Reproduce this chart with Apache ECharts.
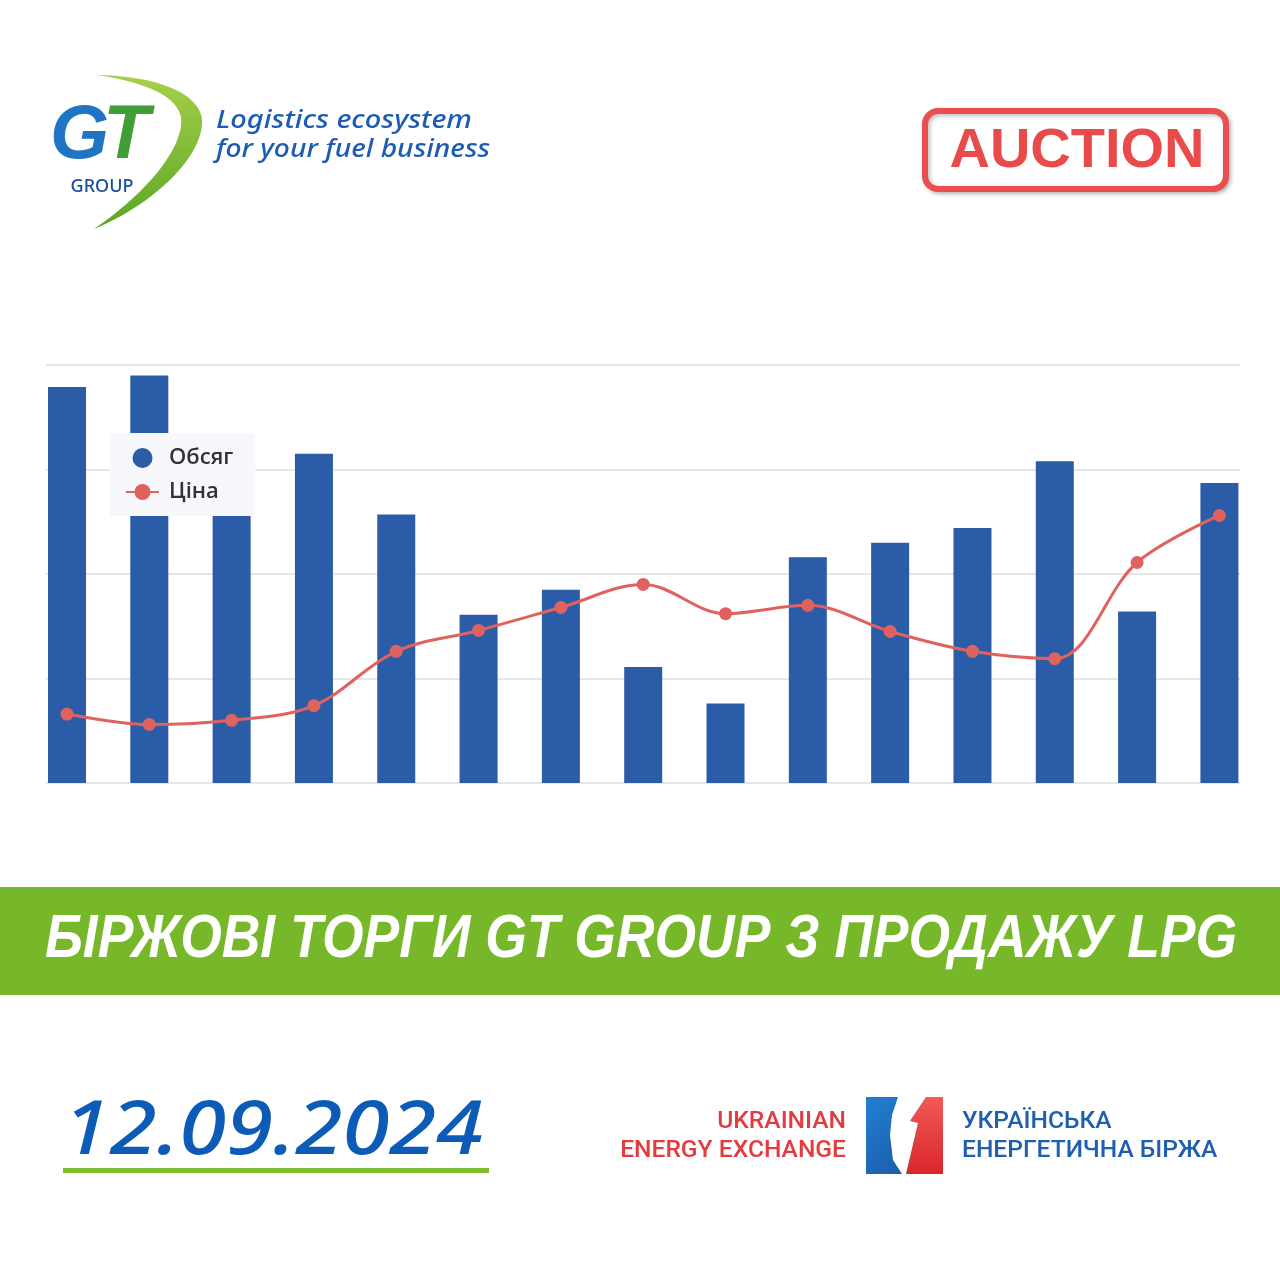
<!DOCTYPE html>
<html>
<head>
<meta charset="utf-8">
<script src="https://cdn.jsdelivr.net/npm/echarts@6.0.0/dist/echarts.min.js"></script>
<style>
html,body{margin:0;padding:0;background:#ffffff;}
#chart{width:1280px;height:1280px;}
</style>
</head>
<body>
<div id="chart"></div>
<script>
// ---- data ----
const sessions = ['1','2','3','4','5','6','7','8','9','10','11','12','13','14','15'];
const volume = [379, 390, 280, 315, 257, 161, 185, 111, 76, 216, 230, 244, 308, 164, 287];
const price  = [66, 56, 60, 74, 126, 146, 168, 190, 162, 170, 145, 126, 119, 211, 256];
const yTicks = [0, 100, 200, 300, 400];
const legendNames = ['Обсяг', 'Ціна'];

const headerTag = ['Logistics ecosystem', 'for your fuel business'];
const bannerText = 'БІРЖОВІ ТОРГИ GT GROUP З ПРОДАЖУ LPG';
const dateText = '12.09.2024';
const ueeLatin = ['UKRAINIAN', 'ENERGY EXCHANGE'];
const ueeCyr = ['УКРАЇНСЬКА', 'ЕНЕРГЕТИЧНА БІРЖА'];

// ---- helpers ----
const mctx = document.createElement('canvas').getContext('2d');
function fit(text, font, target) { mctx.font = font; return target / mctx.measureText(text).width; }
function bez(p0, p1, p2, p3, n) {
  const pts = [];
  for (let k = 0; k <= n; k++) {
    const t = k / n, u = 1 - t;
    pts.push([
      u*u*u*p0[0] + 3*u*u*t*p1[0] + 3*u*t*t*p2[0] + t*t*t*p3[0],
      u*u*u*p0[1] + 3*u*u*t*p1[1] + 3*u*t*t*p2[1] + t*t*t*p3[1]
    ]);
  }
  return pts;
}
const swoosh = [].concat(
  bez([97,75],[160,76],[205,95],[202,125],20),
  bez([202,125],[199,160],[152,205],[94,229],24),
  bez([94,229],[136,200],[176,160],[181,126],24),
  bez([181,126],[185,100],[152,83],[97,75],20)
);

const BAR = '#2b5ca8';
const LINE = '#e0625f';
const bannerFont = 'italic bold 62px "Liberation Sans"';
const bannerScale = fit(bannerText, bannerFont, 1192);
const dateFont = 'italic 500 74px "Noto Sans"';
const dateScale = fit(dateText, dateFont, 420);
const tagFont = 'italic 500 26px "Noto Sans"';
const tagScale1 = fit(headerTag[0], tagFont, 256);
const tagScale2 = fit(headerTag[1], tagFont, 274);
const ueeFont = '500 24.6px Roboto';

function lg(x0, y0, x1, y1, c0, c1) {
  return {type: 'linear', x: x0, y: y0, x2: x1, y2: y1, colorStops: [{offset: 0, color: c0}, {offset: 1, color: c1}]};
}

const chart = echarts.init(document.getElementById('chart'), null, {renderer: 'canvas'});

const graphic = [
  // GT swoosh
  {type: 'polygon', shape: {points: swoosh}, style: {fill: lg(0, 0, 0, 1, '#a6d04a', '#5aa626')}},
  {type: 'text', x: 50, y: 137, style: {text: 'G', font: 'italic bold 76px "Liberation Sans"', textVerticalAlign: 'middle', fill: '#1f74c4'}},
  {type: 'text', x: 103, y: 137, style: {text: 'T', font: 'italic bold 76px "Liberation Sans"', textVerticalAlign: 'middle', fill: '#3f9e36'}},
  {type: 'text', x: 102, y: 187, style: {text: 'GROUP', font: '500 18px "Noto Sans"', textAlign: 'center', textVerticalAlign: 'middle', fill: '#1b4f9f'}},
  {type: 'text', x: 216, y: 121, scaleX: tagScale1, style: {text: headerTag[0], font: tagFont, textVerticalAlign: 'middle', fill: '#1d5cb4'}},
  {type: 'text', x: 216, y: 150, scaleX: tagScale2, style: {text: headerTag[1], font: tagFont, textVerticalAlign: 'middle', fill: '#1d5cb4'}},

  // AUCTION box
  {type: 'rect', shape: {x: 925, y: 111, width: 301, height: 78, r: 13},
   style: {fill: '#ffffff', stroke: '#ea4e4e', lineWidth: 6, shadowColor: 'rgba(0,0,0,0.25)', shadowBlur: 4, shadowOffsetX: 2, shadowOffsetY: 2}},
  {type: 'text', x: 1077, y: 152, style: {text: 'AUCTION', font: 'bold 56px "Liberation Sans"', textAlign: 'center', textVerticalAlign: 'middle', fill: '#e94b4b'}},

  // green banner
  {type: 'rect', shape: {x: 0, y: 887, width: 1280, height: 108}, style: {fill: '#77b82a'}},
  {type: 'text', x: 45, y: 940, scaleX: bannerScale, style: {text: bannerText, font: bannerFont, textVerticalAlign: 'middle', fill: '#ffffff',
    shadowColor: 'rgba(0,0,0,0.45)', shadowBlur: 3, shadowOffsetX: 2, shadowOffsetY: 2}},

  // date
  {type: 'text', x: 63, y: 1133, scaleX: dateScale, style: {text: dateText, font: dateFont, textVerticalAlign: 'middle', fill: '#0c5cb7'}},
  {type: 'rect', shape: {x: 63, y: 1168, width: 426, height: 5}, style: {fill: '#7cbc2e'}},

  // Ukrainian Energy Exchange logo
  {type: 'text', x: 846, y: 1122, style: {text: ueeLatin[0], font: ueeFont, textAlign: 'right', textVerticalAlign: 'middle', fill: '#e23c41'}},
  {type: 'text', x: 846, y: 1151, style: {text: ueeLatin[1], font: ueeFont, textAlign: 'right', textVerticalAlign: 'middle', fill: '#e23c41'}},
  {type: 'rect', shape: {x: 866, y: 1097, width: 77, height: 77}, style: {fill: lg(0, 0, 1, 1, '#2380d2', '#1a4f9e')}},
  {type: 'polygon', shape: {points: [[926,1097],[943,1097],[943,1174],[906,1174],[918,1123],[910,1121]]},
   style: {fill: lg(0, 0, 0, 1, '#f25a55', '#d9262b')}},
  {type: 'polygon', shape: {points: [[898,1097],[926,1097],[910,1121],[918,1123],[906,1174],[902,1174],[893,1160],[890,1135],[892,1115]]},
   style: {fill: '#ffffff'}},
  {type: 'text', x: 962, y: 1122, style: {text: ueeCyr[0], font: ueeFont, textVerticalAlign: 'middle', fill: '#1f5fb0'}},
  {type: 'text', x: 962, y: 1151, style: {text: ueeCyr[1], font: ueeFont, textVerticalAlign: 'middle', fill: '#1f5fb0'}}
];

const option = {
  backgroundColor: '#ffffff',
  animation: false,
  grid: {left: 46, right: 40, top: 365, bottom: 497},
  legend: {
    data: [{name: legendNames[0], icon: 'circle'}, {name: legendNames[1]}],
    orient: 'vertical',
    left: 110, top: 433,
    padding: [14, 22, 13, 15],
    itemWidth: 33, itemHeight: 20, itemGap: 12,
    backgroundColor: '#f6f8fb',
    textStyle: {fontFamily: '"Open Sans"', fontWeight: 600, fontSize: 22, color: '#333333', padding: [0, 0, 0, 5]},
    z: 10
  },
  xAxis: {
    type: 'value', min: -0.255, max: sessions.length - 1 + 0.25,
    axisLine: {show: false}, axisTick: {show: false}, axisLabel: {show: false}, splitLine: {show: false}
  },
  yAxis: {
    type: 'value', min: yTicks[0], max: yTicks[yTicks.length - 1], interval: yTicks[1] - yTicks[0],
    axisLine: {show: false}, axisTick: {show: false}, axisLabel: {show: false},
    splitLine: {lineStyle: {color: '#e6e6e6', width: 2}}
  },
  series: [
    {name: legendNames[0], type: 'bar', barWidth: 38,
     data: sessions.map((s, i) => [i, volume[i]]),
     itemStyle: {color: BAR}},
    {name: legendNames[1], type: 'line', smooth: 0.35,
     data: sessions.map((s, i) => [i, price[i]]),
     symbol: 'circle', symbolSize: 13, showSymbol: true,
     lineStyle: {color: LINE, width: 3}, itemStyle: {color: LINE}}
  ],
  graphic: graphic
};
chart.setOption(option);
</script>
</body>
</html>
